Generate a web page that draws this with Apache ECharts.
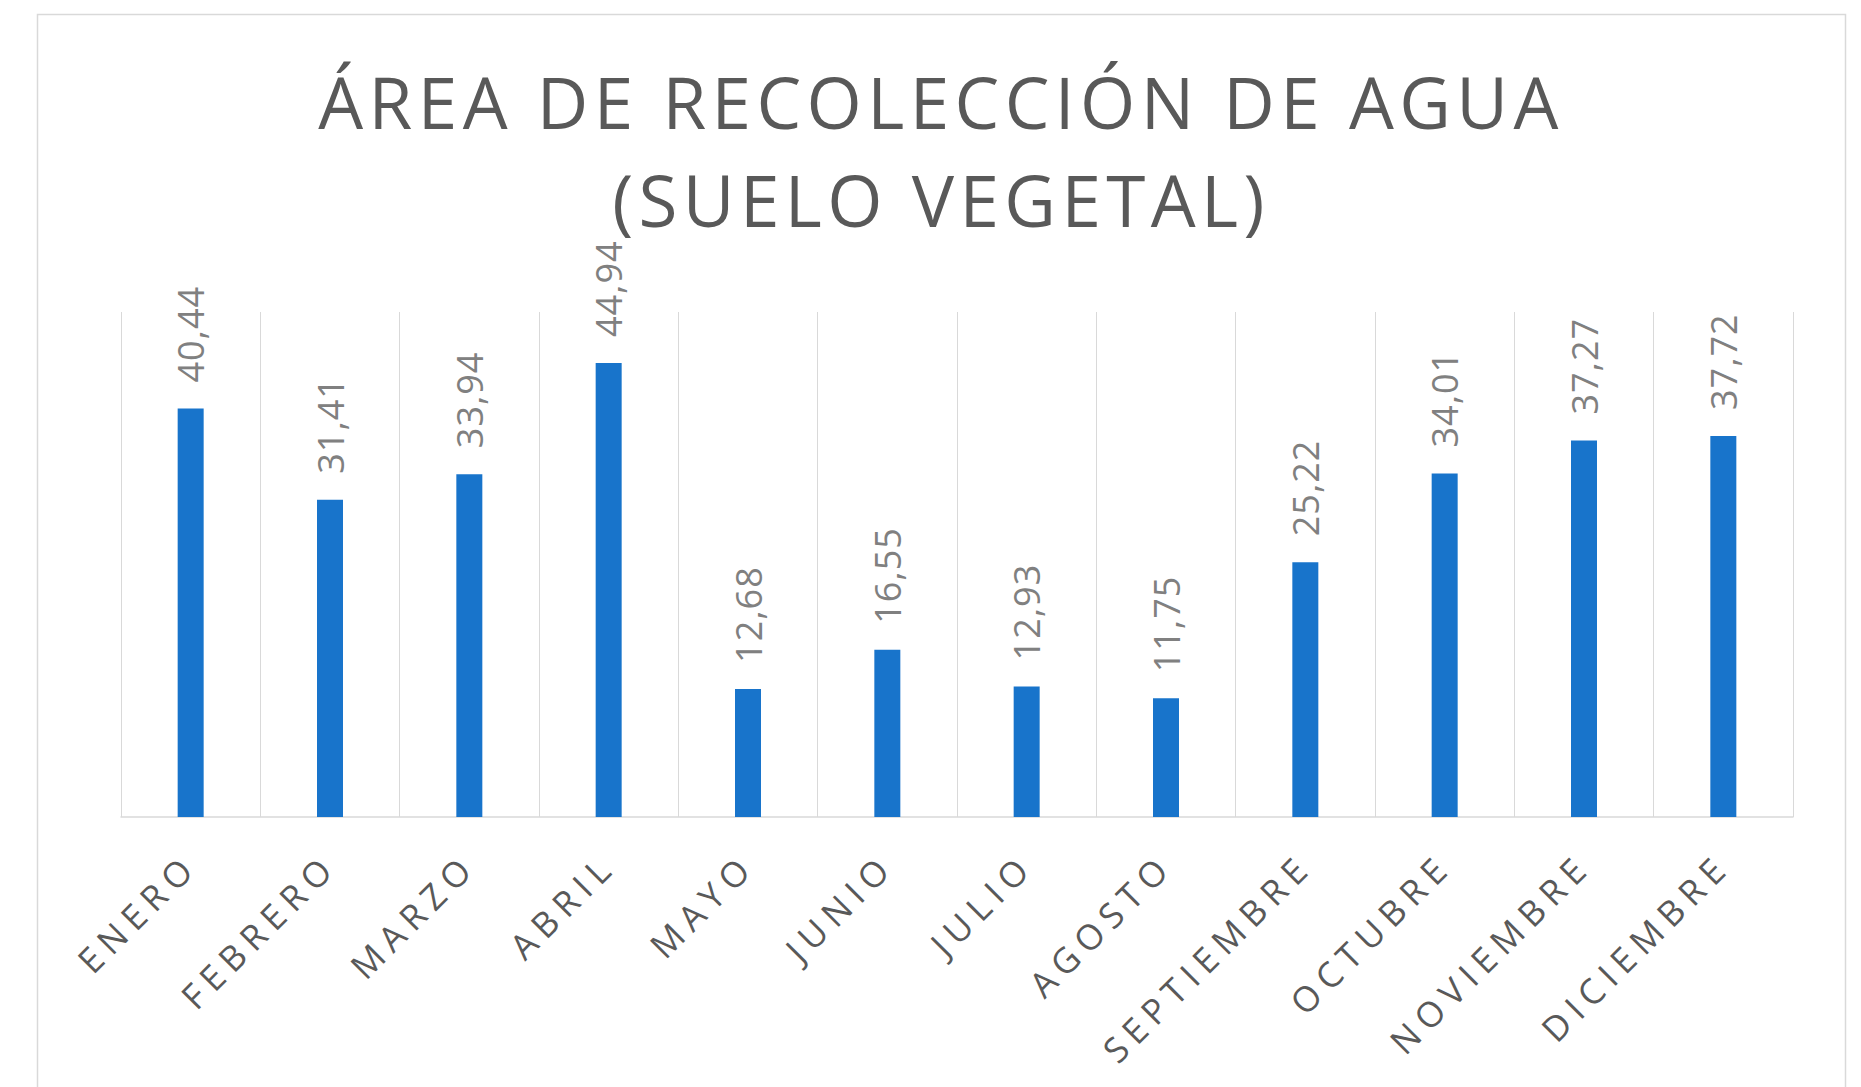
<!DOCTYPE html>
<html>
<head>
<meta charset="utf-8">
<title>Área de recolección de agua (suelo vegetal)</title>
<script src="https://cdn.jsdelivr.net/npm/echarts@6/dist/echarts.min.js"></script>
<style>
  html, body { margin: 0; padding: 0; background: #ffffff; }
  #chart { width: 1861px; height: 1087px; }
  /* tracking for the three text groups (SVG renderer) */
  #chart text[style*="71px"] { letter-spacing: 5.4px; }
  #chart text[style*="35px"] { letter-spacing: 7.5px; }
  #chart text[style*="36px"] { letter-spacing: 1px; }
</style>
</head>
<body>
<div id="chart"></div>
<script>
// Monthly values
const months = ['ENERO', 'FEBRERO', 'MARZO', 'ABRIL', 'MAYO', 'JUNIO', 'JULIO',
                'AGOSTO', 'SEPTIEMBRE', 'OCTUBRE', 'NOVIEMBRE', 'DICIEMBRE'];
const areaValues = [40.44, 31.41, 33.94, 44.94, 12.68, 16.55, 12.93, 11.75,
                    25.22, 34.01, 37.27, 37.72];
const titleText = 'ÁREA DE RECOLECCIÓN DE AGUA\n(SUELO VEGETAL)';
const yMin = 0;
const yMax = 50;

const FONT = '"Open Sans", "Noto Sans", sans-serif';
const GRID_COLOR = '#d9d9d9';

const chart = echarts.init(document.getElementById('chart'), null, { renderer: 'svg' });

chart.setOption({
  animation: false,
  backgroundColor: '#ffffff',
  title: {
    text: titleText,
    left: 936,
    textAlign: 'center',
    top: 47,
    textStyle: {
      fontFamily: FONT,
      fontSize: 71,
      fontWeight: 'normal',
      color: '#595959',
      lineHeight: 98
    }
  },
  graphic: [{
    type: 'rect',
    silent: true,
    z: -1,
    shape: { x: 37.5, y: 14.5, width: 1808, height: 1120 },
    style: { fill: 'none', stroke: GRID_COLOR, lineWidth: 1.5 }
  }],
  grid: { left: 121, right: 68, top: 312, bottom: 270 },
  xAxis: {
    type: 'category',
    data: months,
    boundaryGap: true,
    axisLine: { show: true, lineStyle: { color: GRID_COLOR, width: 1.5 } },
    axisTick: { show: false },
    splitLine: { show: true, interval: 0, lineStyle: { color: GRID_COLOR, width: 1 } },
    axisLabel: {
      interval: 0,
      rotate: 45,
      margin: 42,
      fontFamily: FONT,
      fontSize: 35,
      color: '#595959'
    }
  },
  yAxis: {
    type: 'value',
    min: yMin,
    max: yMax,
    show: false,
    splitLine: { show: false }
  },
  series: [{
    type: 'bar',
    data: areaValues,
    barWidth: 26,
    itemStyle: { color: '#1874cb' },
    label: {
      show: true,
      position: 'top',
      distance: 26,
      rotate: 90,
      align: 'left',
      verticalAlign: 'middle',
      fontFamily: FONT,
      fontSize: 36,
      color: '#808080',
      formatter: p => p.value.toFixed(2).replace('.', ',')
    }
  }]
});
</script>
</body>
</html>
